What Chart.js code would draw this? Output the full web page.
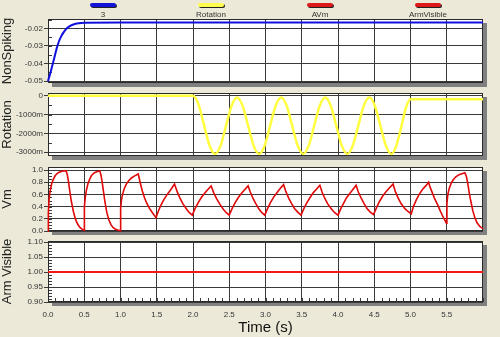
<!DOCTYPE html>
<html>
<head>
<meta charset="utf-8">
<title>Neuron traces</title>
<script src="https://cdn.jsdelivr.net/npm/chart.js@4.4.1/dist/chart.umd.min.js"></script>
<style>
  html, body { margin: 0; padding: 0; background: #ece9d8; }
  #wrap { position: relative; width: 500px; height: 337px; overflow: hidden; background: #ece9d8; }
  #wrap canvas { position: absolute; left: 0; top: 0; }
  .leg { position: absolute; top: 3px; width: 70px; margin-left: -35px; text-align: center;
         font: 8px 'Liberation Sans', Arial, sans-serif; color: #333; line-height: 9px; }
  .leg i { display: block; width: 26px; height: 4px; margin: 0 auto 3px; border-radius: 2px;
           box-shadow: 1px 1px 0 #222; }
</style>
</head>
<body>
<div id="wrap">
  <canvas id="pNonSpiking" width="500" height="337"></canvas>
  <canvas id="pRotation" width="500" height="337"></canvas>
  <canvas id="pVm" width="500" height="337"></canvas>
  <canvas id="pArm" width="500" height="337"></canvas>
</div>
<script>
// legend
const legendLabels = ['3', 'Rotation', 'AVm', 'ArmVisible'];
const legendColors = ['#1414d8', '#ffff50', '#dc1a1a', '#dc1a1a'];

// time axis
const xTicks = [0, 0.5, 1.0, 1.5, 2.0, 2.5, 3.0, 3.5, 4.0, 4.5, 5.0, 5.5];

// NonSpiking
const nsTime  = [0, 0.03, 0.06, 0.09, 0.12, 0.15, 0.18, 0.21, 0.25, 0.30, 0.35, 0.42, 0.5, 1.0, 6.0];
const nsValue = [-0.0500, -0.0458, -0.0412, -0.0363, -0.0314, -0.0275, -0.0247, -0.0226, -0.0204,
                 -0.0188, -0.0178, -0.0171, -0.0168, -0.0167, -0.0167];
const nsTicks = [-0.05, -0.04, -0.03, -0.02];

// Rotation (rad, shown in milli)
const rotTime = [0, 2.0, 2.076, 2.152, 2.228, 2.304, 2.38, 2.456, 2.532, 2.608, 2.684, 2.76, 2.836,
                 2.912, 2.988, 3.064, 3.14, 3.216, 3.292, 3.368, 3.444, 3.52, 3.596, 3.672, 3.748,
                 3.824, 3.90, 3.976, 4.052, 4.128, 4.204, 4.28, 4.356, 4.432, 4.508, 4.584, 4.66,
                 4.736, 4.80, 4.87, 4.94, 5.00, 5.05, 6.0];
const rotValue = [0, 0, -0.46, -1.56, -2.64, -3.09, -2.65, -1.59, -0.53, -0.09, -0.53, -1.59, -2.65,
                  -3.09, -2.65, -1.59, -0.53, -0.09, -0.53, -1.59, -2.65, -3.09, -2.65, -1.59, -0.53,
                  -0.09, -0.53, -1.59, -2.65, -3.09, -2.65, -1.59, -0.53, -0.09, -0.53, -1.59, -2.65,
                  -3.09, -2.70, -1.70, -0.60, -0.19, -0.19, -0.19];
const rotTicks = [-3.0, -2.0, -1.0, 0];

// Vm
const vmTime = [
  0.000, 0.005, 0.015, 0.03, 0.05, 0.07, 0.10, 0.14, 0.19, 0.25,
  0.265, 0.28, 0.30, 0.32, 0.35, 0.38, 0.41, 0.44, 0.47, 0.50,
  0.502, 0.515, 0.53, 0.55, 0.575, 0.60, 0.64, 0.68, 0.715,
  0.73, 0.745, 0.765, 0.785, 0.81, 0.84, 0.87, 0.90, 0.93, 0.96, 0.995,
  1.002, 1.015, 1.03, 1.05, 1.08, 1.11, 1.15, 1.195, 1.245,
  1.27, 1.30, 1.33, 1.36, 1.40, 1.44, 1.49,
  1.52, 1.56, 1.60, 1.645, 1.695, 1.745,
  1.78, 1.82, 1.86, 1.91, 1.95, 1.99,
  2.03, 2.07, 2.115, 2.16, 2.205, 2.25,
  2.285, 2.325, 2.37, 2.415, 2.46, 2.50,
  2.54, 2.58, 2.625, 2.67, 2.715, 2.76,
  2.79, 2.83, 2.87, 2.91, 2.95, 2.99,
  3.03, 3.07, 3.115, 3.16, 3.205, 3.25,
  3.28, 3.32, 3.36, 3.40, 3.445, 3.49,
  3.53, 3.57, 3.615, 3.66, 3.705, 3.75,
  3.78, 3.82, 3.86, 3.91, 3.955, 4.00,
  4.04, 4.08, 4.12, 4.165, 4.21, 4.25,
  4.28, 4.32, 4.36, 4.40, 4.445, 4.49,
  4.53, 4.57, 4.615, 4.665, 4.71, 4.76,
  4.79, 4.83, 4.87, 4.92, 4.965, 5.01,
  5.04, 5.08, 5.12, 5.165, 5.21, 5.25,
  5.27, 5.30, 5.33, 5.37, 5.41, 5.45, 5.495,
  5.502, 5.515, 5.535, 5.56, 5.59, 5.625, 5.67, 5.72, 5.75,
  5.77, 5.79, 5.81, 5.83, 5.86, 5.89, 5.92, 5.96, 6.00
];
const vmValue = [
  0.00, 0.30, 0.52, 0.66, 0.77, 0.84, 0.91, 0.955, 0.98, 0.99,
  0.93, 0.83, 0.66, 0.50, 0.32, 0.19, 0.11, 0.06, 0.03, 0.01,
  0.40, 0.56, 0.67, 0.77, 0.85, 0.91, 0.955, 0.975, 0.985,
  0.92, 0.82, 0.65, 0.48, 0.31, 0.18, 0.10, 0.055, 0.03, 0.015, 0.005,
  0.38, 0.52, 0.61, 0.69, 0.77, 0.82, 0.87, 0.905, 0.935,
  0.80, 0.66, 0.55, 0.46, 0.37, 0.30, 0.22,
  0.32, 0.43, 0.52, 0.60, 0.68, 0.77,
  0.65, 0.54, 0.45, 0.36, 0.30, 0.26,
  0.37, 0.46, 0.55, 0.62, 0.68, 0.74,
  0.63, 0.53, 0.44, 0.36, 0.30, 0.26,
  0.37, 0.46, 0.55, 0.62, 0.68, 0.74,
  0.64, 0.53, 0.44, 0.36, 0.30, 0.26,
  0.37, 0.47, 0.56, 0.63, 0.70, 0.76,
  0.65, 0.54, 0.45, 0.37, 0.31, 0.26,
  0.37, 0.46, 0.55, 0.63, 0.69, 0.75,
  0.64, 0.53, 0.44, 0.36, 0.30, 0.26,
  0.37, 0.46, 0.55, 0.62, 0.69, 0.75,
  0.64, 0.54, 0.45, 0.37, 0.31, 0.27,
  0.38, 0.48, 0.57, 0.65, 0.71, 0.77,
  0.65, 0.54, 0.45, 0.37, 0.32, 0.28,
  0.40, 0.51, 0.60, 0.68, 0.74, 0.80,
  0.72, 0.63, 0.54, 0.44, 0.33, 0.23, 0.13,
  0.45, 0.60, 0.70, 0.78, 0.84, 0.89, 0.925, 0.945, 0.955,
  0.90, 0.78, 0.63, 0.50, 0.33, 0.21, 0.13, 0.07, 0.04
];
const vmTicks = [0, 0.2, 0.4, 0.6, 0.8, 1.0];

// Arm Visible
const armTime  = [0, 6.0];
const armValue = [1.0, 1.0];
const armTicks = [0.90, 0.95, 1.00, 1.05, 1.10];

// legend swatches above the plots
const wrap = document.getElementById('wrap');
const legendX = [103, 211, 320, 428];
legendLabels.forEach((name, i) => {
  const d = document.createElement('div');
  d.className = 'leg';
  d.style.left = legendX[i] + 'px';
  d.innerHTML = '<i style="background:' + legendColors[i] + '"></i>';
  d.appendChild(document.createTextNode(name));
  wrap.appendChild(d);
});

const GRID = '#3a3a3a';
const FONT = "'Liberation Sans', Arial, sans-serif";

// shadow, white plot background, frame and small inner ticks
const panelFrame = {
  id: 'panelFrame',
  beforeDraw(chart) {
    const { ctx, chartArea: a } = chart;
    ctx.save();
    ctx.fillStyle = '#808080';
    ctx.fillRect(a.left + 4, a.top + 4, a.width, a.height);
    ctx.fillStyle = '#ffffff';
    ctx.fillRect(a.left, a.top, a.width, a.height);
    ctx.restore();
  },
  beforeDatasetsDraw(chart, args, opts) {
    const { ctx, chartArea: a, scales } = chart;
    ctx.save();
    ctx.strokeStyle = GRID;
    ctx.lineWidth = 1;
    ctx.beginPath();
    if (opts.yStep) {
      const s = scales.y;
      for (let v = Math.ceil(s.min / opts.yStep) * opts.yStep; v <= s.max + 1e-9; v += opts.yStep) {
        const y = Math.round(s.getPixelForValue(v)) + 0.5;
        ctx.moveTo(a.left, y);
        ctx.lineTo(a.left + 4, y);
      }
    }
    if (opts.xStep) {
      const s = scales.x;
      for (let v = 0; v <= s.max + 1e-9; v += opts.xStep) {
        const x = Math.round(s.getPixelForValue(v)) + 0.5;
        ctx.moveTo(x, a.bottom);
        ctx.lineTo(x, a.bottom - 4);
      }
    }
    ctx.stroke();
    ctx.strokeStyle = '#2a2a2a';
    ctx.strokeRect(Math.round(a.left) + 0.5, Math.round(a.top) + 0.5,
                   Math.round(a.width) - 1, Math.round(a.height) - 1);
    ctx.restore();
  }
};

function makePanel(id, p) {
  const xAxisH = p.timeAxis ? 35 : 0;
  return new Chart(document.getElementById(id), {
    type: 'line',
    data: {
      datasets: [{
        data: p.time.map((t, i) => ({ x: t, y: p.value[i] })),
        borderColor: p.color,
        borderWidth: p.width,
        pointRadius: 0,
        tension: 0,
        cubicInterpolationMode: p.smooth ? 'monotone' : 'default',
        clip: 3
      }]
    },
    options: {
      responsive: false,
      animation: false,
      events: [],
      layout: { padding: { left: 0, right: 17, top: p.top, bottom: 337 - p.bottom - xAxisH } },
      plugins: {
        legend: { display: false },
        tooltip: { enabled: false },
        panelFrame: { yStep: p.minorStep, xStep: p.timeAxis ? 0.1 : 0 }
      },
      scales: {
        x: {
          type: 'linear',
          min: 0,
          max: 6.0,
          afterBuildTicks: s => { s.ticks = xTicks.map(v => ({ value: v })); },
          afterFit: s => { s.height = xAxisH; },
          border: { display: false },
          grid: { color: GRID, lineWidth: 1, drawTicks: false },
          ticks: {
            display: !!p.timeAxis,
            padding: 9,
            color: '#333',
            font: { family: FONT, size: 8, lineHeight: 1 },
            maxRotation: 0,
            callback: v => v.toFixed(1)
          },
          title: {
            display: !!p.timeAxis,
            text: 'Time (s)',
            color: '#111',
            padding: 0,
            font: { family: FONT, size: 15, lineHeight: 1.2 }
          }
        },
        y: {
          min: p.min,
          max: p.max,
          afterBuildTicks: s => { s.ticks = p.ticks.map(v => ({ value: v })); },
          afterFit: s => { s.width = 48; },
          border: { display: false },
          grid: { color: GRID, lineWidth: 1, drawTicks: true, tickLength: 4, tickColor: GRID },
          ticks: {
            padding: 1,
            color: '#333',
            font: { family: FONT, size: 8 },
            callback: p.fmt
          },
          title: {
            display: true,
            text: p.title,
            color: '#222',
            padding: 0,
            font: { family: FONT, size: 13, lineHeight: 1.2 }
          }
        }
      }
    },
    plugins: [panelFrame]
  });
}

makePanel('pNonSpiking', {
  time: nsTime, value: nsValue, ticks: nsTicks, title: 'NonSpiking',
  color: '#1010dc', width: 2, smooth: true,
  top: 19, bottom: 83, min: -0.0511, max: -0.0147, minorStep: 0.005,
  fmt: v => v.toFixed(2)
});

makePanel('pRotation', {
  time: rotTime, value: rotValue, ticks: rotTicks, title: 'Rotation',
  color: '#ffff40', width: 2.5, smooth: true,
  top: 93, bottom: 156, min: -3.2, max: 0.144, minorStep: 0.5,
  fmt: v => (v === 0 ? '0' : Math.round(v * 1000) + 'm')
});

makePanel('pVm', {
  time: vmTime, value: vmValue, ticks: vmTicks, title: 'Vm',
  color: '#e00808', width: 1.6, smooth: false,
  top: 167, bottom: 231, min: 0, max: 1.05, minorStep: 0.05,
  fmt: v => v.toFixed(1)
});

makePanel('pArm', {
  time: armTime, value: armValue, ticks: armTicks, title: 'Arm Visible',
  color: '#f01818', width: 2, smooth: false,
  top: 241, bottom: 302, min: 0.9, max: 1.104, minorStep: 0.01,
  fmt: v => v.toFixed(2), timeAxis: true
});
</script>
</body>
</html>
